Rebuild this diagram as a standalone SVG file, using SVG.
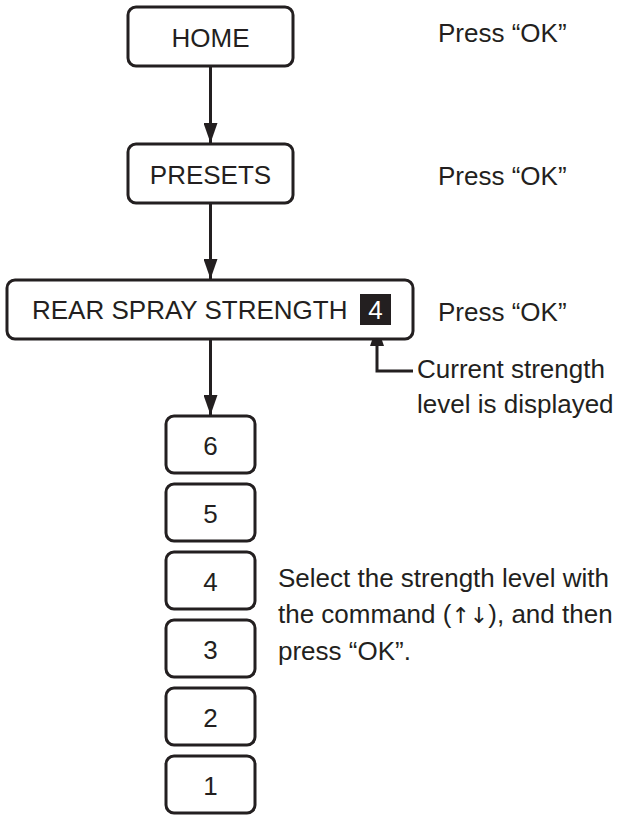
<svg xmlns="http://www.w3.org/2000/svg" width="619" height="815" viewBox="0 0 619 815">
<style>
  .box{fill:#fff;stroke:#231f20;stroke-width:3}
  .t{font-family:"Liberation Sans",Arial,sans-serif;font-size:26px;fill:#231f20}
  .c{text-anchor:middle}
  .sym{font-family:"DejaVu Sans",sans-serif;font-size:22px;fill:#231f20}
  .conn{fill:none;stroke:#231f20;stroke-width:3}
</style>
<defs>
  <marker id="ah" markerUnits="userSpaceOnUse" markerWidth="20" markerHeight="14" refX="20" refY="7" orient="auto">
    <path d="M0,0 L20,7 L0,14 z" fill="#231f20"/>
  </marker>
</defs>
<rect width="619" height="815" fill="#fff"/>
<g id="connectors">
  <path class="conn" d="M210.5,66 V143" marker-end="url(#ah)"/>
  <path class="conn" d="M210.5,203 V279" marker-end="url(#ah)"/>
  <path class="conn" d="M210.5,339 V415" marker-end="url(#ah)"/>
  <path class="conn" d="M413,371 H377 V326" marker-end="url(#ah)"/>
</g>
<g id="home">
  <rect class="box" x="128" y="7" width="165" height="59" rx="8"/>
  <text class="t c" x="210.5" y="47">HOME</text>
</g>
<g id="presets">
  <rect class="box" x="128" y="144" width="165" height="59" rx="8"/>
  <text class="t c" x="210.5" y="184">PRESETS</text>
</g>
<g id="rear">
  <rect class="box" x="7" y="280" width="406" height="59" rx="8"/>
  <text class="t" x="32" y="319">REAR SPRAY STRENGTH</text>
  <rect x="360" y="294" width="31" height="31" fill="#231f20"/>
  <text class="t c" x="375.5" y="319" style="fill:#fff">4</text>
</g>
<g id="n6"><rect class="box" x="166" y="416" width="89" height="57" rx="8"/><text class="t c" x="210.5" y="455">6</text></g>
<g id="n5"><rect class="box" x="166" y="484" width="89" height="57" rx="8"/><text class="t c" x="210.5" y="523">5</text></g>
<g id="n4"><rect class="box" x="166" y="552" width="89" height="57" rx="8"/><text class="t c" x="210.5" y="591">4</text></g>
<g id="n3"><rect class="box" x="166" y="620" width="89" height="57" rx="8"/><text class="t c" x="210.5" y="659">3</text></g>
<g id="n2"><rect class="box" x="166" y="688" width="89" height="57" rx="8"/><text class="t c" x="210.5" y="727">2</text></g>
<g id="n1"><rect class="box" x="166" y="756" width="89" height="57" rx="8"/><text class="t c" x="210.5" y="795">1</text></g>
<g id="notes">
  <text class="t" x="438" y="42">Press “OK”</text>
  <text class="t" x="438" y="185">Press “OK”</text>
  <text class="t" x="438" y="321">Press “OK”</text>
  <text class="t" x="417" y="378">Current strength</text>
  <text class="t" x="417" y="413">level is displayed</text>
  <text class="t" x="278" y="587">Select the strength level with</text>
  <text class="t" x="278" y="623">the command (<tspan class="sym">↑↓</tspan>), and then</text>
  <text class="t" x="278" y="660">press “OK”.</text>
</g>
</svg>
